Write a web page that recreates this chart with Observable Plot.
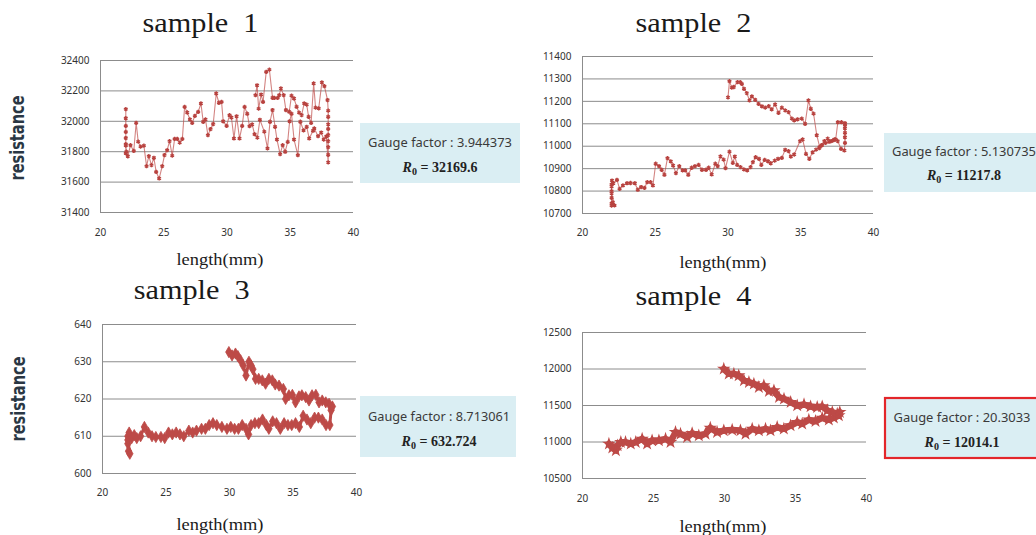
<!DOCTYPE html>
<html>
<head>
<meta charset="utf-8">
<script src="https://cdn.jsdelivr.net/npm/d3@7"></script>
<script src="https://cdn.jsdelivr.net/npm/@observablehq/plot@0.6"></script>
<style>
  html, body { margin: 0; padding: 0; background: #fff; overflow: hidden; }
  #root { position: relative; width: 1036px; height: 535px; overflow: hidden; }
  .panel { position: absolute; }
  #overlay { position: absolute; left: 0; top: 0; pointer-events: none; }
</style>
</head>
<body>
<div id="root"></div>
<script>
// ---------- data ----------
const xTicks = [20, 25, 30, 35, 40];

// sample 1 : loading 22 -> 38 mm, then unloading back to ~32 mm
const s1Len = [22.0,22.0,22.0,22.0,22.0,22.0,22.0,22.0,22.05,22.16,22.37,22.63,22.82,22.98,23.17,23.43,23.64,23.82,24.03,24.22,24.4,24.64,24.88,25.06,25.27,25.46,25.67,25.86,26.07,26.26,26.47,26.65,26.86,27.07,27.25,27.46,27.72,27.94,28.12,28.3,28.49,28.7,28.91,29.15,29.36,29.57,29.7,29.97,30.2,30.35,30.55,30.76,30.99,31.2,31.39,31.6,31.78,31.99,32.18,32.4,32.6,32.95,33.2,33.4,33.6,33.8,33.95,34.2,34.4,34.6,34.8,34.95,35.1,35.3,35.6,35.8,36.05,36.3,36.5,36.8,36.9,37.2,37.45,37.65,37.85,38.0,38.0,38.0,38.0,38.0,38.0,38.0,38.0,38.0,37.95,37.7,37.5,37.25,37.0,36.85,36.65,36.45,36.3,36.1,35.9,35.7,35.5,35.3,35.1,34.92,34.66,34.48,34.26,34.13,34.0,33.74,33.6,33.35,33.1,32.85,32.7,32.5,32.38,32.25];
const s1Res = [31790,31850,31890,31930,31970,32020,32080,31840,31800,31770,31843,31805,31990,31866,31833,31840,31705,31771,31712,31760,31667,31624,31705,31778,31810,31870,31774,31884,31884,31860,31884,32095,32058,32012,31990,32036,32062,32117,31997,32012,31909,31949,31982,32183,32122,32128,32000,31970,32040,32025,31887,32033,31887,31970,32095,32050,31968,31979,31915,31893,32010,31932,31822,31997,32074,31964,31880,31784,31843,31800,31865,32000,32050,31880,31777,31997,31940,31964,31887,31938,31953,31902,31926,31880,31900,31730,31780,31830,31870,31910,31950,31980,32030,32070,32140,32231,32256,32085,32090,32249,31990,32030,32110,32118,32041,32057,32096,32150,32169,32063,32074,32172,32217,32172,32154,32154,32155,32340,32325,32128,32176,32083,32237,32172];

// sample 2
const s2Len = [22.0,22.0,22.0,22.0,22.0,22.08,22.2,22.0,22.0,22.03,22.12,22.37,22.55,22.78,23.06,23.3,23.6,23.8,24.03,24.26,24.45,24.68,24.84,25.03,25.26,25.44,25.63,25.84,26.07,26.23,26.42,26.65,26.88,27.06,27.27,27.5,27.73,27.98,28.21,28.49,28.67,28.88,29.13,29.29,29.48,29.7,29.83,30.1,30.33,30.47,30.63,30.86,31.09,31.32,31.55,31.71,31.9,32.13,32.29,32.52,32.75,32.94,33.21,33.44,33.7,33.93,34.16,34.32,34.55,34.95,35.13,35.36,35.59,35.82,36.05,36.28,36.45,36.62,36.85,37.08,37.31,37.54,37.77,38.0,38.04,38.04,38.04,38.04,38.04,38.04,37.8,37.55,37.4,37.2,36.95,36.7,36.45,36.3,36.1,35.88,35.69,35.53,35.3,35.07,34.78,34.55,34.39,34.16,33.93,33.7,33.47,33.24,33.0,32.8,32.56,32.33,32.1,31.87,31.64,31.48,31.29,31.1,30.95,30.84,30.65,30.4,30.26,30.1,30.0];
const s2Res = [10830,10800,10770,10745,10735,10750,10736,10790,10820,10847,10835,10850,10810,10825,10835,10836,10835,10806,10818,10814,10840,10840,10825,10922,10911,10895,10873,10947,10932,10914,10880,10911,10892,10892,10873,10904,10911,10917,10895,10895,10904,10874,10922,10911,10955,10940,10902,10976,10926,10954,10917,10907,10897,10892,10907,10929,10951,10944,10917,10939,10933,10924,10936,10944,10948,10984,10978,10954,10963,11023,11030,10966,10944,10973,10985,10992,11005,11023,11034,11023,11030,11023,10988,10981,11015,11040,11060,11080,11095,11103,11107,11107,11030,11025,11020,11015,11005,10997,11049,11145,11167,11204,11100,11123,11120,11115,11123,11152,11160,11172,11149,11186,11164,11179,11172,11178,11189,11207,11222,11204,11237,11256,11278,11286,11286,11264,11261,11290,11218];

// sample 3
const s3Len = [22.0,22.0,22.05,22.15,22.0,22.1,22.3,22.5,22.7,23.0,23.3,23.6,23.9,24.2,24.6,24.9,25.2,25.5,25.8,26.1,26.4,26.8,27.1,27.4,27.8,28.1,28.4,28.7,29.0,29.4,29.8,30.1,30.4,30.7,31.0,31.3,31.5,31.7,32.0,32.3,32.6,32.9,33.1,33.4,33.7,34.0,34.3,34.6,34.9,35.2,35.5,35.8,36.1,36.4,36.7,37.0,37.3,37.6,37.9,38.0,38.1,37.84,37.58,37.3,37.05,36.8,36.5,36.26,36.0,35.7,35.47,35.2,34.95,34.68,34.42,34.24,33.9,33.6,33.37,33.1,32.84,32.58,32.3,32.05,31.84,31.7,31.53,31.3,31.08,30.87,30.66,30.47,30.2,29.95];
const s3Res = [610,608,606,605.3,609,611,609.5,610.3,609.5,610,612.5,611,610,609.8,609.8,609.5,611,610.5,611,610.5,610,611.5,611,611.5,612,612,613,613.5,613,612.5,612,612.5,612,612,613,612,610.5,613,613.5,613.5,614.5,613,612,614,613.5,612,613.5,613,613,613.5,612.5,615.5,614.5,613.5,615,615,614.5,613,613,617,618,618.7,619.1,619.6,619.1,621.1,621,619.6,620.5,621,620.7,619.1,621.1,621,620,622.7,623.6,623.9,625,625.4,624.1,625,625.4,625.4,628,629,630,626.3,629,630.4,631.5,632.2,631.7,632.6];

// sample 4
const s4Len = [21.86,22.1,22.35,22.47,22.7,23.03,23.4,23.75,24.2,24.55,24.9,25.38,25.85,26.2,26.55,26.9,27.37,27.72,28.19,28.66,29.0,29.48,29.95,30.54,31.12,31.48,31.95,32.42,32.89,33.24,33.71,34.18,34.65,35.12,35.47,35.94,36.41,36.88,37.35,37.7,38.05,38.12,37.94,37.59,37.24,36.88,36.53,36.06,35.6,35.12,34.66,34.19,33.84,33.48,33.13,32.77,32.42,32.07,31.72,31.37,31.0,30.66,30.3,29.95];
const s4Res = [10975,10920,10884,10952,10998,10998,10975,10998,11043,10975,11020,11020,11043,10998,11135,11111,11066,11120,11088,11111,11194,11135,11157,11166,11157,11111,11180,11157,11180,11157,11203,11180,11226,11271,11249,11304,11285,11331,11304,11331,11363,11409,11386,11409,11432,11486,11477,11486,11514,11500,11546,11591,11614,11705,11696,11774,11751,11797,11820,11843,11911,11934,11934,12002];

const titles = ["sample  1", "sample  2", "sample  3", "sample  4"];
const gaugeFactors = ["3.944373", "5.130735", "8.713061", "20.3033"];
const r0Values = ["32169.6", "11217.8", "632.724", "12014.1"];

// ---------- drawing ----------
const root = document.getElementById("root");
const red = "#c0504d";

function panel(o) {
  const data = o.len.map((x, i) => ({x, y: o.res[i]}));
  const marks = [
    Plot.gridY(o.yTicks, {stroke: "#8c8c8c", strokeOpacity: 1, strokeWidth: 1}),
    Plot.ruleX([20], {y1: o.yDomain[0], y2: o.yDomain[1], stroke: "#8c8c8c", strokeWidth: 1}),
    Plot.axisY(o.yTicks, {tickSize: 0, tickPadding: 11, label: null, tickFormat: d => String(d)}),
    Plot.axisX(xTicks, {tickSize: 0, tickPadding: o.xPad, label: null, tickFormat: d => String(d)}),
    ...o.series(data)
  ];
  const svg = Plot.plot({
    width: o.width, height: o.height,
    marginLeft: o.m[0], marginTop: o.m[1], marginRight: o.m[2], marginBottom: o.m[3],
    x: {domain: [20, 40]},
    y: {domain: o.yDomain},
    style: {fontFamily: "'Noto Sans', sans-serif", fontSize: "10px", color: "#333", background: "transparent", overflow: "visible"},
    marks
  });
  const div = document.createElement("div");
  div.className = "panel";
  div.style.left = o.left + "px";
  div.style.top = o.top + "px";
  div.appendChild(svg);
  root.appendChild(div);
}

const thin = data => [
  Plot.line(data, {x: "x", y: "y", stroke: red, strokeWidth: 1.1, strokeOpacity: 0.7}),
  Plot.dot(data, {x: "x", y: "y", symbol: "asterisk", r: 2, stroke: "#b8423f", strokeWidth: 1.4})
];

panel({len: s1Len, res: s1Res, left: 40, top: 40, width: 330, height: 210, m: [60, 20, 17, 38],
  yDomain: [31400, 32400], yTicks: d3.range(31400, 32401, 200), xPad: 16, series: thin});

panel({len: s2Len, res: s2Res, left: 522, top: 36, width: 370, height: 210, m: [60, 20, 19, 33],
  yDomain: [10700, 11400], yTicks: d3.range(10700, 11401, 100), xPad: 15, series: thin});

panel({len: s3Len, res: s3Res, left: 42, top: 304, width: 330, height: 210, m: [60, 20, 16, 41],
  yDomain: [600, 640], yTicks: d3.range(600, 641, 10), xPad: 15,
  series: data => [
    Plot.line(data, {x: "x", y: "y", stroke: "#bd4a47", strokeWidth: 3}),
    Plot.dot(data, {x: "x", y: "y", symbol: "diamond", r: 3.4, fill: "#bd4a47", stroke: "#bd4a47", strokeWidth: 0.8})
  ]});

panel({len: s4Len, res: s4Res, left: 522, top: 312, width: 360, height: 200, m: [60, 20, 16, 34],
  yDomain: [10500, 12500], yTicks: d3.range(10500, 12501, 500), xPad: 16,
  series: data => [
    Plot.line(data, {x: "x", y: "y", stroke: "#bd4a47", strokeWidth: 6.5, strokeLinejoin: "round"}),
    Plot.dot(data, {x: "x", y: "y", symbol: "star", r: 2.8, fill: "#bd4a47", stroke: "#bd4a47", strokeWidth: 1.5})
  ]});

// ---------- overlay texts ----------
const NS = "http://www.w3.org/2000/svg";
const ov = document.createElementNS(NS, "svg");
ov.setAttribute("id", "overlay");
ov.setAttribute("width", 1036);
ov.setAttribute("height", 535);
root.appendChild(ov);

function el(tag, attrs, parent = ov) {
  const e = document.createElementNS(NS, tag);
  for (const k in attrs) e.setAttribute(k, attrs[k]);
  parent.appendChild(e);
  return e;
}
function text(str, attrs) {
  const t = el("text", attrs);
  t.textContent = str;
  return t;
}

const titlePos = [[200.5, 32], [693.5, 32], [191.7, 299], [693.5, 305]];
titles.forEach((s, i) => text(s, {x: titlePos[i][0], y: titlePos[i][1], "text-anchor": "middle",
  "font-family": "'Liberation Serif', 'DejaVu Serif', serif", "font-size": 27, fill: "#1a1a1a",
  textLength: 116, lengthAdjust: "spacingAndGlyphs", style: "white-space:pre"}));

const xLabPos = [[220, 265], [723, 268], [220, 530], [723, 532]];
xLabPos.forEach(p => text("length(mm)", {x: p[0], y: p[1], "text-anchor": "middle",
  "font-family": "'Liberation Serif', 'DejaVu Serif', serif", "font-size": 17, fill: "#1a1a1a",
  textLength: 87, lengthAdjust: "spacingAndGlyphs"}));

[[17, 138], [17.5, 399]].forEach(p => text("resistance", {transform: `translate(${p[0]},${p[1]}) rotate(-90)`,
  "text-anchor": "middle", "dominant-baseline": "central",
  "font-family": "'Liberation Sans Narrow', 'DejaVu Sans Condensed', 'Liberation Sans', sans-serif",
  "font-weight": "bold", "font-size": 19, fill: "#2a3744", textLength: 85, lengthAdjust: "spacingAndGlyphs"}));

const boxes = [
  {x: 360, y: 123, w: 160, h: 60, cx: 440, b1: 147, b2: 172, l1: 144},
  {x: 884, y: 133, w: 160, h: 59, cx: 964, b1: 155.7, b2: 180, l1: 144},
  {x: 360, y: 396, w: 156, h: 61, cx: 439, b1: 420.7, b2: 445.7, l1: 142},
  {x: 885, y: 398, w: 160, h: 60, cx: 962, b1: 421.7, b2: 446.7, l1: 137, border: true}
];
boxes.forEach((b, i) => {
  el("rect", {x: b.x, y: b.y, width: b.w, height: b.h, fill: "#daeef3",
    stroke: b.border ? "#e3262a" : "none", "stroke-width": b.border ? 2.2 : 0});
  text(`Gauge factor : ${gaugeFactors[i]}`, {x: b.cx, y: b.b1, "text-anchor": "middle",
    "font-family": "'Noto Sans', sans-serif", "font-size": 12.5, fill: "#3a3a3a",
    textLength: b.l1, lengthAdjust: "spacingAndGlyphs", style: "white-space:pre"});
  const t = el("text", {x: b.cx, y: b.b2, "text-anchor": "middle",
    "font-family": "'Liberation Serif', 'DejaVu Serif', serif", "font-size": 14, "font-weight": "bold", fill: "#222"});
  const r = el("tspan", {"font-style": "italic"}, t); r.textContent = "R";
  const sub = el("tspan", {"font-size": 10, dy: 3}, t); sub.textContent = "0";
  const rest = el("tspan", {dy: -3}, t); rest.textContent = ` = ${r0Values[i]}`;
});
</script>
</body>
</html>
